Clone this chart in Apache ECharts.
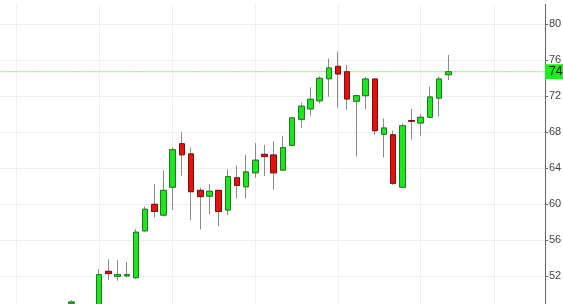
<!DOCTYPE html>
<html>
<head>
<meta charset="utf-8">
<script src="https://cdn.jsdelivr.net/npm/echarts@6/dist/echarts.min.js"></script>
<style>
html,body{margin:0;padding:0;background:#fff;}
#chart{width:563px;height:304px;}
</style>
</head>
<body>
<div id="chart"></div>
<script>
// Candle values (visible run of candles, left to right)
const openVals  = [49.0, 48.7, 48.1, 48.4, 52.55, 52.0, 52.05, 51.85, 57.05, 60.0, 58.8, 61.9, 66.73, 65.6, 61.55, 60.9, 61.55, 59.37, 62.95, 61.95, 63.5, 65.55, 65.48, 63.8, 66.55, 69.45, 70.6, 71.5, 73.95, 75.33, 74.73, 71.45, 72.07, 73.92, 67.78, 67.73, 61.9, 69.3, 69.03, 69.67, 71.8, 74.4];
const closeVals = [49.15, 48.2, 48.5, 52.2, 52.3, 52.2, 52.2, 56.9, 59.45, 59.2, 61.55, 66.07, 65.5, 61.4, 60.85, 61.45, 59.2, 63.07, 62.1, 63.6, 64.9, 65.3, 63.5, 66.3, 69.6, 70.9, 71.67, 74.0, 75.15, 74.48, 71.7, 72.07, 73.92, 68.18, 68.48, 62.33, 68.73, 69.22, 69.67, 71.92, 73.92, 74.73];
const lowVals   = [48.7, 47.4, 47.6, 48.2, 51.6, 51.5, 51.9, 51.7, 57.0, 58.55, 58.7, 59.4, 63.15, 58.25, 57.2, 58.9, 57.6, 58.8, 60.65, 60.65, 62.95, 63.15, 61.6, 63.7, 66.4, 68.5, 69.85, 71.2, 71.95, 70.73, 70.5, 65.3, 70.55, 67.7, 65.2, 62.15, 61.85, 67.2, 67.6, 69.6, 69.73, 73.8];
const highVals  = [49.35, 48.8, 48.8, 52.8, 53.9, 53.8, 53.6, 57.25, 59.75, 62.25, 63.8, 66.33, 68.0, 66.3, 61.85, 62.25, 61.6, 63.9, 64.3, 65.5, 66.8, 66.6, 67.0, 67.6, 69.7, 71.3, 73.0, 74.25, 76.2, 76.96, 75.5, 72.1, 74.18, 73.95, 69.55, 68.18, 69.0, 70.6, 70.03, 73.07, 74.18, 76.6];
// empty periods on the axis before and after the visible candles
const emptyBefore = 8;
const emptyAfter = 11;
// category positions that carry a vertical grid line
const gridLineSlots = [2, 11, 19, 28, 37, 46, 54];
// y axis
const yMin = 48, yMax = 82.2, yStep = 4;

const total = emptyBefore + openVals.length + emptyAfter;
const categories = [];
for (let i = 0; i < total; i++) categories.push('P' + (i + 1));

const wickData = [], bodyData = [];
for (let i = 0; i < emptyBefore; i++) { wickData.push('-'); bodyData.push('-'); }
for (let i = 0; i < openVals.length; i++) {
  const o = openVals[i], c = closeVals[i];
  wickData.push([o, c, lowVals[i], highVals[i]]);
  bodyData.push([o, c, Math.min(o, c), Math.max(o, c)]);
}
for (let i = 0; i < emptyAfter; i++) { wickData.push('-'); bodyData.push('-'); }

const lastClose = closeVals[closeVals.length - 1];
const priceLine = categories.map(function () { return lastClose; });

const chart = echarts.init(document.getElementById('chart'), null, {renderer: 'canvas'});
chart.setOption({
  animation: false,
  backgroundColor: '#ffffff',
  grid: {left: -1.8, right: 13.7, top: 4.5, bottom: -8.3, containLabel: false, outerBoundsMode: 'none'},
  xAxis: {
    type: 'category',
    data: categories,
    boundaryGap: false,
    axisLine: {show: false},
    axisTick: {show: false},
    axisLabel: {show: false},
    splitLine: {
      show: true,
      interval: function (idx) { return gridLineSlots.indexOf(idx) >= 0; },
      lineStyle: {color: '#efefef', width: 1}
    }
  },
  yAxis: {
    type: 'value',
    position: 'right',
    offset: -4.3,
    min: yMin,
    max: yMax,
    interval: yStep,
    axisLine: {show: true, lineStyle: {color: '#666', width: 1}},
    axisTick: {show: true, length: 3, lineStyle: {color: '#666'}},
    axisLabel: {
      color: '#444', fontSize: 11, margin: 4,
      fontFamily: 'Liberation Sans, Arial, sans-serif',
      showMaxLabel: false
    },
    splitLine: {show: true, showMaxLine: false, lineStyle: {color: '#efefef', width: 1}}
  },
  series: [
    {
      name: 'price',
      type: 'line',
      data: priceLine,
      symbol: 'none',
      silent: true,
      z: 1,
      clip: false,
      lineStyle: {color: '#a6ea9c', width: 1, type: 'solid'},
      itemStyle: {color: '#a6ea9c'},
      endLabel: {
        show: true,
        distance: -4.3,
        formatter: function (p) { return String(Math.floor(p.value)); },
        backgroundColor: '#1bf01b',
        color: '#111',
        fontSize: 12,
        fontFamily: 'Liberation Sans, Arial, sans-serif',
        padding: [2, 8, 1, 4]
      }
    },
    {
      name: 'wick',
      type: 'candlestick',
      data: wickData,
      barWidth: 6,
      itemStyle: {
        color: 'rgba(0,0,0,0)', color0: 'rgba(0,0,0,0)',
        borderColor: '#8a8a8a', borderColor0: '#8a8a8a', borderWidth: 1
      }
    },
    {
      name: 'body',
      type: 'candlestick',
      data: bodyData,
      barWidth: 6,
      itemStyle: {
        color: '#1ee61e', color0: '#e80f0f',
        borderColor: '#1f7a1f', borderColor0: '#7a1010', borderWidth: 1
      }
    }
  ]
});
</script>
</body>
</html>
